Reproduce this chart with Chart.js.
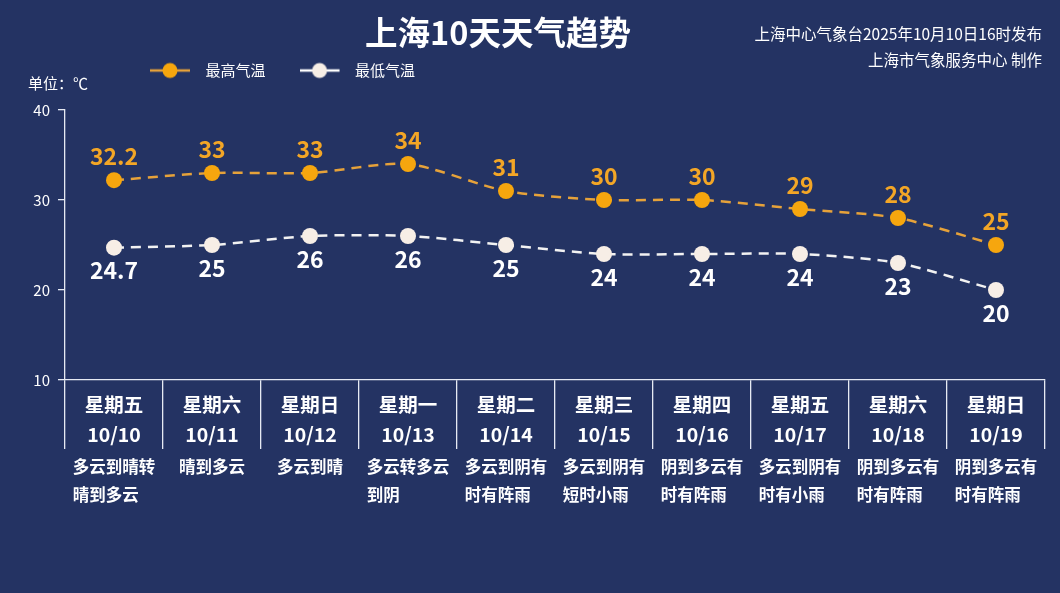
<!DOCTYPE html>
<html>
<head>
<meta charset="utf-8">
<script src="https://cdn.jsdelivr.net/npm/chart.js@4"></script>
<style>
  body { margin: 0; background: #243363; }
  #wrap { position: relative; width: 1060px; height: 593px; font-family: "Noto Sans CJK SC", sans-serif; color: #fff; }
  #title { position: absolute; left: 0; width: 996px; top: 9px; line-height: 44px; text-align: center; font-size: 32.5px; font-weight: bold; }
  #source { position: absolute; right: 18px; top: 20px; line-height: 26px; text-align: right; font-size: 15.5px; }
  #unit { position: absolute; left: 28px; top: 73px; line-height: 20px; font-size: 15px; }
</style>
</head>
<body>
<div id="wrap">
  <canvas id="chart" width="1060" height="593"></canvas>
  <div id="title">上海10天天气趋势</div>
  <div id="source">上海中心气象台2025年10月10日16时发布<br>上海市气象服务中心 制作</div>
  <div id="unit">单位：℃</div>
</div>
<script>
const days = ['星期五', '星期六', '星期日', '星期一', '星期二', '星期三', '星期四', '星期五', '星期六', '星期日'];
const dates = ['10/10', '10/11', '10/12', '10/13', '10/14', '10/15', '10/16', '10/17', '10/18', '10/19'];
const weather = [
  ['多云到晴转', '晴到多云'],
  ['晴到多云'],
  ['多云到晴'],
  ['多云转多云', '到阴'],
  ['多云到阴有', '时有阵雨'],
  ['多云到阴有', '短时小雨'],
  ['阴到多云有', '时有阵雨'],
  ['多云到阴有', '时有小雨'],
  ['阴到多云有', '时有阵雨'],
  ['阴到多云有', '时有阵雨']
];
const highTemps = [32.2, 33, 33, 34, 31, 30, 30, 29, 28, 25];
const lowTemps = [24.7, 25, 26, 26, 25, 24, 24, 24, 23, 20];
const yTicks = [10, 20, 30, 40];

const FONT = '"Noto Sans CJK SC", sans-serif';
const AXIS = '#e6eaf3';
const ORANGE_LINE = '#e6a23a';
const ORANGE_DOT = '#f6a60e';
const ORANGE_TEXT = '#f3a626';
const WHITE_LINE = '#f2f2f2';
const WHITE_DOT = '#f7eee6';

// pad the shorter line with full width spaces so the lines start at the same x
function leftAlign(lines) {
  const n = Math.max(...lines.map(l => l.length));
  return lines.map(l => l + '\u3000'.repeat(n - l.length));
}

// legend symbol: short line with a dot, drawn in the left 40px of a 48px box
function legendIcon(line, dot) {
  const c = document.createElement('canvas');
  c.width = 48; c.height = 18;
  const g = c.getContext('2d');
  g.strokeStyle = line; g.lineWidth = 2.5;
  g.beginPath(); g.moveTo(0, 9); g.lineTo(40, 9); g.stroke();
  g.fillStyle = dot;
  g.beginPath(); g.arc(20, 9, 7.5, 0, Math.PI * 2); g.fill();
  return c;
}
const icons = [legendIcon(ORANGE_LINE, ORANGE_DOT), legendIcon('#ffffff', WHITE_DOT)];

const valueLabels = {
  id: 'valueLabels',
  afterDatasetsDraw(chart) {
    const ctx = chart.ctx;
    ctx.save();
    ctx.font = 'bold 23px ' + FONT;
    ctx.textAlign = 'center';
    ctx.textBaseline = 'middle';
    chart.data.datasets.forEach((ds, i) => {
      const meta = chart.getDatasetMeta(i);
      ctx.fillStyle = i === 0 ? ORANGE_TEXT : '#ffffff';
      meta.data.forEach((pt, j) => {
        const dy = i === 0 ? -24 : 23;
        ctx.fillText(String(ds.data[j]), pt.x, pt.y + dy);
      });
    });
    ctx.restore();
  }
};

const moveLegend = {
  id: 'moveLegend',
  afterLayout(chart) {
    chart.legend.left += 116;
    chart.legend.top -= 22;
  }
};

const chart = new Chart(document.getElementById('chart'), {
  type: 'line',
  data: {
    labels: days.map((d, i) => [d, dates[i]]),
    datasets: [{
      label: '最高气温',
      data: highTemps,
      borderColor: ORANGE_LINE,
      borderWidth: 2.5,
      borderDash: [10, 7],
      pointRadius: 8,
      pointBorderWidth: 0,
      pointBackgroundColor: ORANGE_DOT,
      tension: 0.25
    }, {
      label: '最低气温',
      data: lowTemps,
      borderColor: WHITE_LINE,
      borderWidth: 2.5,
      borderDash: [10, 7],
      pointRadius: 8,
      pointBorderWidth: 0,
      pointBackgroundColor: WHITE_DOT,
      tension: 0.25
    }]
  },
  options: {
    responsive: false,
    animation: false,
    layout: { padding: { top: 51, left: 0, right: 15, bottom: 64 } },
    plugins: {
      tooltip: { enabled: false },
      legend: {
        position: 'top',
        align: 'start',
        labels: {
          color: '#ffffff',
          font: { family: FONT, size: 15 },
          usePointStyle: true,
          pointStyleWidth: 48,
          boxHeight: 15,
          padding: 34,
          generateLabels(chart) {
            const items = Chart.defaults.plugins.legend.labels.generateLabels(chart);
            items.forEach((it, i) => { it.pointStyle = icons[i]; });
            return items;
          }
        }
      }
    },
    scales: {
      x: {
        type: 'category',
        offset: true,
        weight: 0,
        grid: { display: true, offset: true, drawOnChartArea: false, tickLength: 69, color: AXIS, lineWidth: 1.3 },
        border: { display: true, color: AXIS, width: 1.3 },
        ticks: {
          color: '#ffffff',
          font: { family: FONT, size: 19.5, weight: 'bold', lineHeight: 1.54 },
          padding: -59,
          maxRotation: 0,
          autoSkip: false
        },
        afterFit(s) { s.height = 69; }
      },
      x2: {
        type: 'category',
        labels: weather.map(leftAlign),
        offset: true,
        position: 'bottom',
        weight: 1,
        grid: { display: false, drawTicks: false },
        border: { display: false },
        ticks: {
          color: '#ffffff',
          font: { family: FONT, size: 16.5, weight: 'bold', lineHeight: 1.7 },
          padding: 4,
          maxRotation: 0,
          autoSkip: false
        },
        afterFit(s) { s.height = 80; }
      },
      y: {
        min: 10,
        max: 40,
        afterBuildTicks(s) { s.ticks = yTicks.map(v => ({ value: v })); },
        grid: { drawOnChartArea: false, tickLength: 7, color: AXIS, lineWidth: 1.3 },
        border: { color: AXIS, width: 1.3 },
        ticks: { color: '#ffffff', font: { family: FONT, size: 15 }, padding: 8 },
        afterFit(s) { s.width = 65; }
      }
    }
  },
  plugins: [valueLabels, moveLegend]
});
</script>
</body>
</html>
